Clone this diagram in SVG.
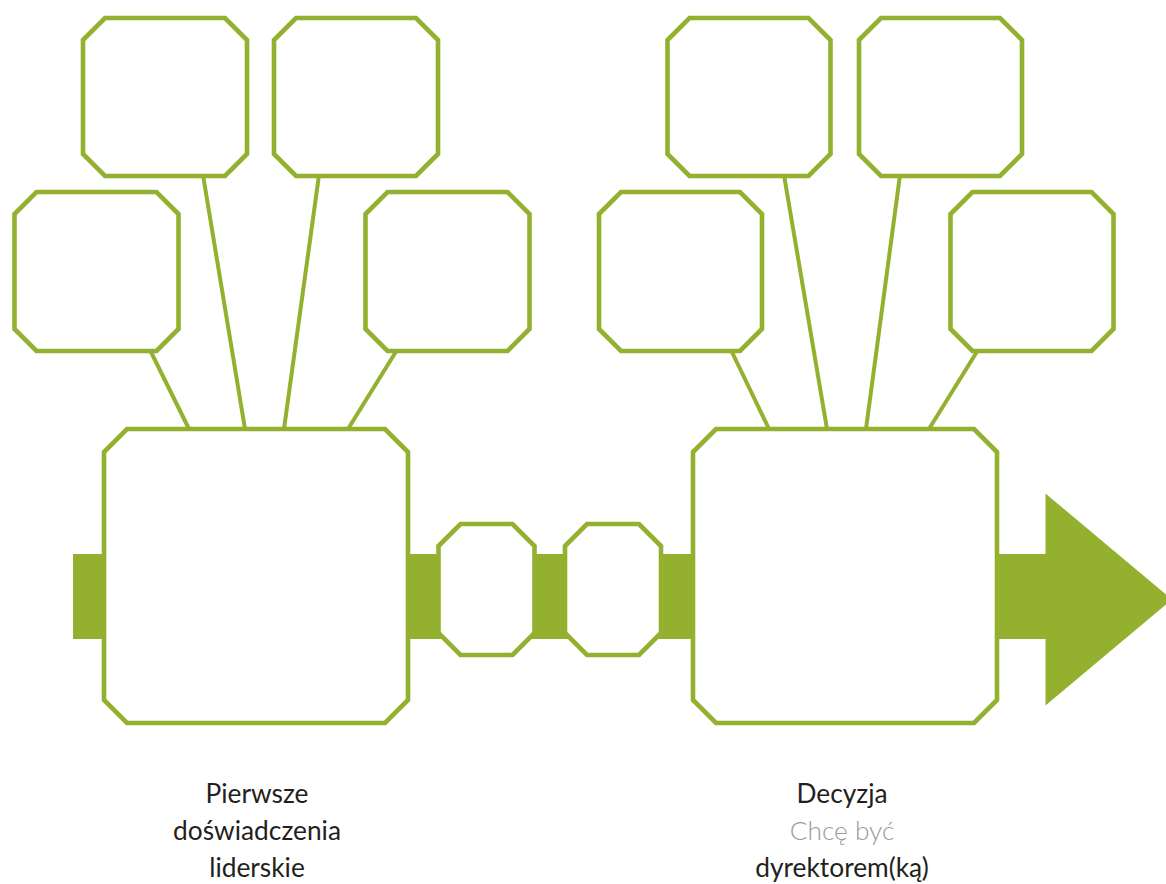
<svg xmlns="http://www.w3.org/2000/svg" width="1166" height="884" viewBox="0 0 1166 884">
<style>
.box{fill:#fff;stroke:#93b12f;stroke-width:4.6;stroke-linejoin:miter}
.bar{fill:#93b12f}
.con line{stroke:#93b12f;stroke-width:4}
.lbl{font-family:Lato,"Liberation Sans",sans-serif;font-size:26.3px;text-anchor:middle;fill:#231f20}
.lt{font-weight:300;fill:#9a9a9a}
</style>
<rect width="1166" height="884" fill="#fff"/>
<g id="spine">
<rect class="bar" x="73" y="554" width="40" height="85"/>
<rect class="bar" x="403" y="554" width="40" height="85"/>
<rect class="bar" x="530" y="554" width="40" height="85"/>
<rect class="bar" x="656" y="554" width="42" height="85"/>
<rect class="bar" x="992" y="554" width="58" height="85"/>
<polygon class="bar" points="1045.5,493.5 1172,599.5 1045.5,705.5"/>
</g>
<g id="connectors" class="con">
<line x1="150" y1="350" x2="189" y2="429"/>
<line x1="203" y1="175" x2="245" y2="429"/>
<line x1="319" y1="175" x2="284" y2="429"/>
<line x1="397" y1="350" x2="348" y2="429"/>
<line x1="731" y1="350" x2="769" y2="429"/>
<line x1="784" y1="175" x2="827" y2="429"/>
<line x1="900" y1="175" x2="866" y2="429"/>
<line x1="978" y1="350" x2="929" y2="429"/>
</g>
<g id="n-tl1"><polygon class="box" points="105,18 225,18 247,40 247,154 225,176 105,176 83,154 83,40"/></g>
<g id="n-tl2"><polygon class="box" points="296,18 416,18 438,40 438,154 416,176 296,176 274,154 274,40"/></g>
<g id="n-ml"><polygon class="box" points="36.5,192 156.5,192 178.5,214 178.5,329 156.5,351 36.5,351 14.5,329 14.5,214"/></g>
<g id="n-mr"><polygon class="box" points="387.5,192 507.5,192 529.5,214 529.5,329 507.5,351 387.5,351 365.5,329 365.5,214"/></g>
<g id="n-bigl"><polygon class="box" points="127,429 385,429 408,452 408,700 385,723 127,723 104,700 104,452"/></g>
<g id="n-s1"><polygon class="box" points="460.5,524 512.5,524 534.5,546 534.5,633 512.5,655 460.5,655 438.5,633 438.5,546"/></g>
<g id="n-s2"><polygon class="box" points="587,524 639,524 661,546 661,633 639,655 587,655 565,633 565,546"/></g>
<g id="n-bigr"><polygon class="box" points="716,429 974,429 997,452 997,700 974,723 716,723 693,700 693,452"/></g>
<g id="n-tr1"><polygon class="box" points="689.5,18 808.5,18 830.5,40 830.5,154 808.5,176 689.5,176 667.5,154 667.5,40"/></g>
<g id="n-tr2"><polygon class="box" points="881,18 1000,18 1022,40 1022,154 1000,176 881,176 859,154 859,40"/></g>
<g id="n-mr1"><polygon class="box" points="621,192 740,192 762,214 762,329 740,351 621,351 599,329 599,214"/></g>
<g id="n-mr2"><polygon class="box" points="972.5,192 1091.5,192 1113.5,214 1113.5,329 1091.5,351 972.5,351 950.5,329 950.5,214"/></g>
<g id="label-left">
<text class="lbl" x="257" y="803">Pierwsze</text>
<text class="lbl" x="257" y="840">doświadczenia</text>
<text class="lbl" x="257" y="877">liderskie</text>
</g>
<g id="label-right">
<text class="lbl" x="842" y="803">Decyzja</text>
<text class="lbl lt" x="842" y="840">Chcę być</text>
<text class="lbl" x="842" y="877">dyrektorem(ką)</text>
</g>
</svg>
